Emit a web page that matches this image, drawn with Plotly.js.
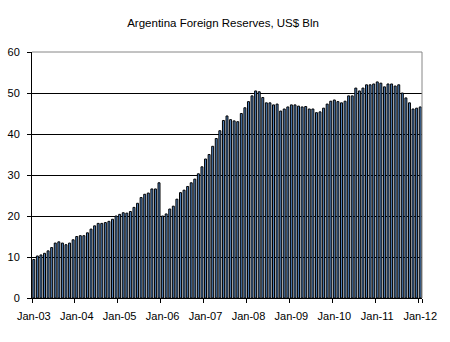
<!DOCTYPE html>
<html>
<head>
<meta charset="utf-8">
<script src="https://cdn.plot.ly/plotly-3.0.1.min.js"></script>
<style>html,body{margin:0;padding:0;background:#fff;}#chart{width:450px;height:342px;}</style>
</head>
<body>
<div id="chart"></div>
<script>
var monthNames = ['Jan','Feb','Mar','Apr','May','Jun','Jul','Aug','Sep','Oct','Nov','Dec'];
var yearCodes = ['03','04','05','06','07','08','09','10','11','12'];
var tickLabels = ['Jan-03','Jan-04','Jan-05','Jan-06','Jan-07','Jan-08','Jan-09','Jan-10','Jan-11','Jan-12'];

var reserves2003 = [9.4, 10.25, 10.5, 10.9, 11.5, 12.3, 13.4, 13.7, 13.4, 13.0, 13.4, 14.2];
var reserves2004 = [15.0, 15.2, 15.2, 15.9, 16.8, 17.6, 18.2, 18.2, 18.4, 18.7, 19.2, 20.0];
var reserves2005 = [20.4, 20.8, 20.7, 21.1, 22.1, 23.1, 24.5, 25.3, 25.6, 26.6, 26.6, 28.1];
var reserves2006 = [20.0, 20.5, 21.7, 22.4, 24.1, 25.7, 26.3, 27.2, 28.1, 29.0, 30.3, 32.0];
var reserves2007 = [33.9, 35.0, 37.0, 38.9, 40.8, 43.3, 44.4, 43.5, 43.2, 43.0, 45.0, 46.4];
var reserves2008 = [47.9, 49.3, 50.5, 50.3, 48.9, 47.6, 47.6, 47.1, 47.3, 45.6, 46.1, 46.6];
var reserves2009 = [47.1, 47.1, 46.8, 46.6, 46.7, 46.1, 46.1, 45.2, 45.4, 46.3, 47.3, 48.0];
var reserves2010 = [48.3, 47.9, 47.6, 48.0, 49.3, 49.3, 51.2, 50.5, 51.2, 52.0, 52.0, 52.2];
var reserves2011 = [52.7, 52.4, 51.5, 52.2, 52.2, 51.7, 52.0, 50.0, 48.8, 47.6, 46.1, 46.3];
var reserves2012 = [46.6];

var reserves = [].concat(reserves2003, reserves2004, reserves2005, reserves2006, reserves2007,
  reserves2008, reserves2009, reserves2010, reserves2011, reserves2012);

var months = [];
yearCodes.forEach(function (yc) {
  monthNames.forEach(function (m) { months.push(m + '-' + yc); });
});
months = months.slice(0, reserves.length);

var font = {family: 'Liberation Sans, Arial, sans-serif', size: 11, color: '#000'};

var data = [{
  type: 'bar',
  x: months,
  y: reserves,
  marker: {color: '#4F81BD', line: {color: '#000', width: 1}},
  hoverinfo: 'x+y'
}];

var layout = {
  width: 450,
  height: 342,
  margin: {l: 32, r: 28, t: 52, b: 44},
  paper_bgcolor: '#fff',
  plot_bgcolor: '#fff',
  font: font,
  showlegend: false,
  bargap: 0.45,
  title: {
    text: 'Argentina Foreign Reserves, US$ Bln',
    font: {family: 'Liberation Sans, Arial, sans-serif', size: 11.5, color: '#000'},
    x: 0.49, xref: 'paper', xanchor: 'center',
    y: 1 - 23 / 342, yref: 'container', yanchor: 'middle'
  },
  xaxis: {
    type: 'category',
    categoryorder: 'array',
    categoryarray: months,
    tickmode: 'array',
    tickvals: tickLabels,
    ticktext: tickLabels,
    tickson: 'boundaries',
    ticks: 'outside',
    ticklen: 4,
    tickcolor: '#000',
    ticklabelstandoff: 8,
    showline: true,
    linecolor: '#000',
    linewidth: 1,
    showgrid: false,
    zeroline: false,
    tickangle: 0,
    tickfont: font,
    range: [-0.5, months.length - 0.5]
  },
  yaxis: {
    range: [0, 60],
    tickmode: 'linear',
    tick0: 0,
    dtick: 10,
    ticks: 'outside',
    ticklen: 4,
    tickcolor: '#000',
    ticklabelstandoff: 5,
    showline: true,
    linecolor: '#000',
    linewidth: 1,
    showgrid: true,
    gridcolor: '#000',
    gridwidth: 1,
    zeroline: false,
    tickfont: font
  },
  shapes: [
    {type: 'line', xref: 'paper', yref: 'paper', x0: 0, x1: 1, y0: 1, y1: 1, line: {color: '#868686', width: 1}, layer: 'above'},
    {type: 'line', xref: 'paper', yref: 'paper', x0: 1, x1: 1, y0: 0, y1: 1, line: {color: '#868686', width: 1}, layer: 'above'}
  ]
};

Plotly.newPlot('chart', data, layout, {displayModeBar: false, staticPlot: true});
</script>
</body>
</html>
